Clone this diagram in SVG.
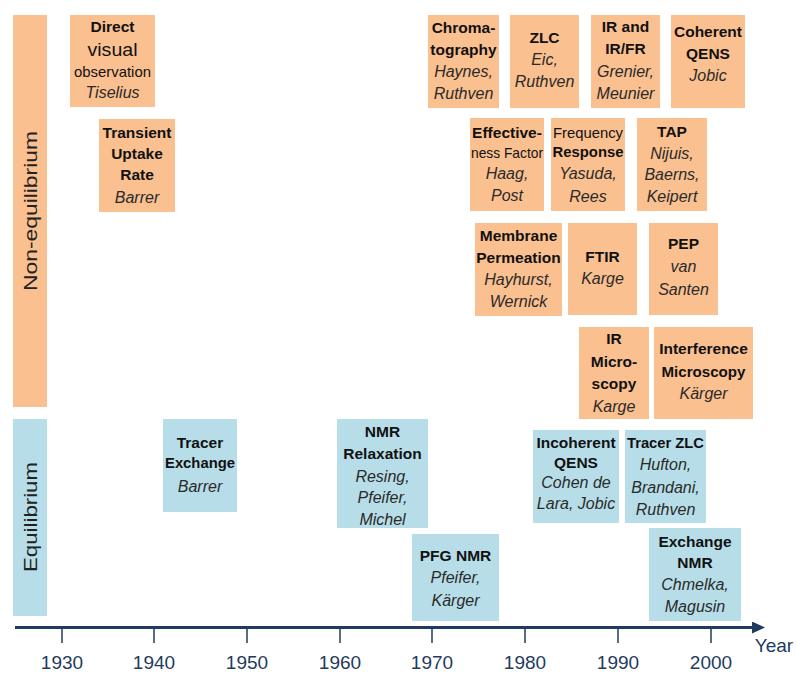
<svg xmlns="http://www.w3.org/2000/svg" width="796" height="675" viewBox="0 0 796 675">
<style>
.o{fill:#FAC090;}
.b{fill:#B7DEE8;}
text{font-family:"Liberation Sans",Arial,sans-serif;text-anchor:middle;}
.t{font-size:15.5px;font-weight:bold;fill:#111;}
.s{font-size:14.5px;fill:#111;}
.a{font-size:16px;font-style:italic;fill:#2a2a2a;}
.side{font-size:19px;fill:#222;}
.yr{font-size:19px;fill:#1F3B5E;}
.tick{stroke:#1F3B5E;stroke-width:1.5;}
</style>
<defs>
<marker id="ah" markerWidth="13" markerHeight="12" refX="0" refY="6" orient="auto" markerUnits="userSpaceOnUse">
<path d="M0,0 L13,6 L0,12 Z" fill="#1F3B5E"/>
</marker>
</defs>
<rect width="796" height="675" fill="#fff"/>

<g id="side-noneq"><rect class="o" x="13" y="15" width="34" height="392"/><text class="side" transform="translate(37,211) rotate(-90)" textLength="160" lengthAdjust="spacingAndGlyphs">Non-equilibrium</text></g>
<g id="side-eq"><rect class="b" x="13" y="419" width="34" height="197"/><text class="side" transform="translate(37,517) rotate(-90)" textLength="110" lengthAdjust="spacingAndGlyphs">Equilibrium</text></g>

<g id="direct"><rect class="o" x="70" y="15" width="85" height="92"/>
<text x="112.5" class="t" y="32">Direct</text><text x="112.5" y="56" style="font-size:17.5px;fill:#111" textLength="50" lengthAdjust="spacingAndGlyphs">visual</text><text x="112.5" class="s" y="77" textLength="77" lengthAdjust="spacingAndGlyphs">observation</text><text x="112.5" class="a" y="98">Tiselius</text></g>

<g id="transient"><rect class="o" x="99" y="119" width="76" height="93"/>
<text x="137" class="t" y="138">Transient</text><text x="137" class="t" y="159">Uptake</text><text x="137" class="t" y="180">Rate</text><text x="137" class="a" y="203">Barrer</text></g>

<g id="chrom"><rect class="o" x="428" y="15" width="71" height="93"/>
<text x="463.5" class="t" y="33">Chroma-</text><text x="463.5" class="t" y="55">tography</text><text x="463.5" class="a" y="77">Haynes,</text><text x="463.5" class="a" y="99">Ruthven</text></g>

<g id="zlc"><rect class="o" x="510" y="15" width="69" height="93"/>
<text x="544.5" class="t" y="43">ZLC</text><text x="544.5" class="a" y="65">Eic,</text><text x="544.5" class="a" y="87">Ruthven</text></g>

<g id="irfr"><rect class="o" x="591" y="15" width="69" height="93"/>
<text x="625.5" class="t" y="32">IR and</text><text x="625.5" class="t" y="54">IR/FR</text><text x="625.5" class="a" y="77">Grenier,</text><text x="625.5" class="a" y="99">Meunier</text></g>

<g id="cohqens"><rect class="o" x="671" y="15" width="74" height="93"/>
<text x="708" class="t" y="37">Coherent</text><text x="708" class="t" y="59">QENS</text><text x="708" class="a" y="81">Jobic</text></g>

<g id="eff"><rect class="o" x="470" y="118" width="74" height="93"/>
<text x="507" class="t" y="138">Effective-</text><text x="507" class="s" y="158" textLength="72" lengthAdjust="spacingAndGlyphs">ness Factor</text><text x="507" class="a" y="179">Haag,</text><text x="507" class="a" y="201">Post</text></g>

<g id="freq"><rect class="o" x="551" y="118" width="74" height="93"/>
<text x="588" class="s" y="138" textLength="70" lengthAdjust="spacingAndGlyphs">Frequency</text><text x="588" class="t" y="157" textLength="71" lengthAdjust="spacingAndGlyphs">Response</text><text x="588" class="a" y="179">Yasuda,</text><text x="588" class="a" y="202">Rees</text></g>

<g id="tap"><rect class="o" x="637" y="118" width="70" height="93"/>
<text x="672" class="t" y="137">TAP</text><text x="672" class="a" y="159">Nijuis,</text><text x="672" class="a" y="180">Baerns,</text><text x="672" class="a" y="202">Keipert</text></g>

<g id="membrane"><rect class="o" x="475" y="223" width="87" height="93"/>
<text x="518.5" class="t" y="241">Membrane</text><text x="518.5" class="t" y="263">Permeation</text><text x="518.5" class="a" y="285">Hayhurst,</text><text x="518.5" class="a" y="307">Wernick</text></g>

<g id="ftir"><rect class="o" x="568" y="223" width="69" height="92"/>
<text x="602.5" class="t" y="262">FTIR</text><text x="602.5" class="a" y="284">Karge</text></g>

<g id="pep"><rect class="o" x="649" y="223" width="69" height="92"/>
<text x="683.5" class="t" y="249">PEP</text><text x="683.5" class="a" y="272">van</text><text x="683.5" class="a" y="295">Santen</text></g>

<g id="irmicro"><rect class="o" x="579" y="327" width="70" height="92"/>
<text x="614" class="t" y="344">IR</text><text x="614" class="t" y="367">Micro-</text><text x="614" class="t" y="389">scopy</text><text x="614" class="a" y="412">Karge</text></g>

<g id="interf"><rect class="o" x="654" y="327" width="99" height="92"/>
<text x="703.5" class="t" y="354">Interference</text><text x="703.5" class="t" y="377" textLength="84" lengthAdjust="spacingAndGlyphs">Microscopy</text><text x="703.5" class="a" y="399">Kärger</text></g>

<g id="tracerex"><rect class="b" x="163" y="419" width="74" height="93"/>
<text x="200" class="t" y="448">Tracer</text><text x="200" class="t" y="468" textLength="70" lengthAdjust="spacingAndGlyphs">Exchange</text><text x="200" class="a" y="492">Barrer</text></g>

<g id="nmrrel"><rect class="b" x="337" y="419" width="91" height="109"/>
<text x="382.5" class="t" y="437">NMR</text><text x="382.5" class="t" y="459">Relaxation</text><text x="382.5" class="a" y="482">Resing,</text><text x="382.5" class="a" y="503">Pfeifer,</text><text x="382.5" class="a" y="525">Michel</text></g>

<g id="incqens"><rect class="b" x="533" y="430" width="86" height="93"/>
<text x="576" class="t" y="448">Incoherent</text><text x="576" class="t" y="468">QENS</text><text x="576" class="a" y="488">Cohen de</text><text x="576" class="a" y="509">Lara, Jobic</text></g>

<g id="tracerzlc"><rect class="b" x="625" y="430" width="81" height="93"/>
<text x="665.5" class="t" y="448" textLength="77" lengthAdjust="spacingAndGlyphs">Tracer ZLC</text><text x="665.5" class="a" y="470">Hufton,</text><text x="665.5" class="a" y="493">Brandani,</text><text x="665.5" class="a" y="515">Ruthven</text></g>

<g id="pfg"><rect class="b" x="412" y="534" width="87" height="87"/>
<text x="455.5" class="t" y="561">PFG NMR</text><text x="455.5" class="a" y="583">Pfeifer,</text><text x="455.5" class="a" y="606">Kärger</text></g>

<g id="exnmr"><rect class="b" x="649" y="528" width="92" height="93"/>
<text x="695" class="t" y="547">Exchange</text><text x="695" class="t" y="568">NMR</text><text x="695" class="a" y="590">Chmelka,</text><text x="695" class="a" y="612">Magusin</text></g>

<g id="axis">
<line x1="15" y1="627.5" x2="752" y2="627.5" stroke="#1F3B5E" stroke-width="3" marker-end="url(#ah)"/>
<line class="tick" x1="62" y1="628" x2="62" y2="643"/>
<line class="tick" x1="154" y1="628" x2="154" y2="643"/>
<line class="tick" x1="247" y1="628" x2="247" y2="643"/>
<line class="tick" x1="340" y1="628" x2="340" y2="643"/>
<line class="tick" x1="432" y1="628" x2="432" y2="643"/>
<line class="tick" x1="525" y1="628" x2="525" y2="643"/>
<line class="tick" x1="618" y1="628" x2="618" y2="643"/>
<line class="tick" x1="711" y1="628" x2="711" y2="643"/>
<text class="yr" x="62" y="669">1930</text>
<text class="yr" x="154" y="669">1940</text>
<text class="yr" x="247" y="669">1950</text>
<text class="yr" x="340" y="669">1960</text>
<text class="yr" x="432" y="669">1970</text>
<text class="yr" x="525" y="669">1980</text>
<text class="yr" x="618" y="669">1990</text>
<text class="yr" x="711" y="669">2000</text>
<text class="yr" x="774" y="652">Year</text>
</g>
</svg>
